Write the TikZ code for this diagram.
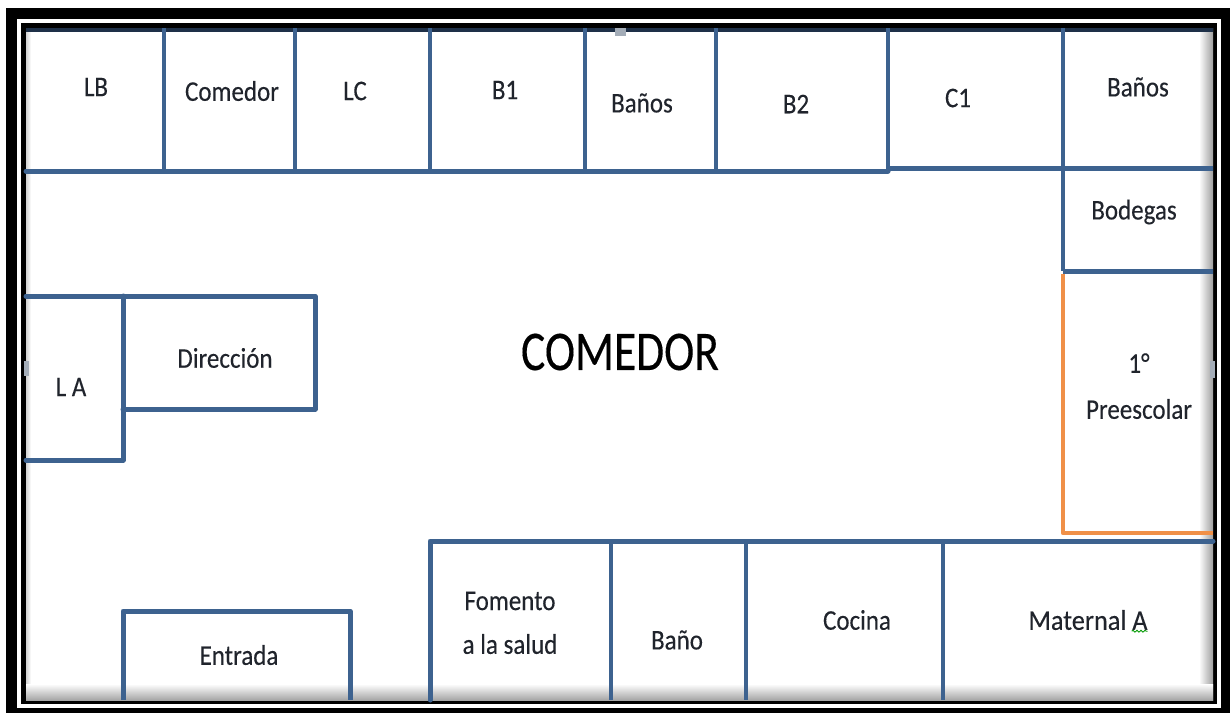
\documentclass[tikz,border=0pt]{standalone}
\usepackage{graphicx}
\usepackage{fontspec}
\setmainfont[FakeBold=0.25]{Carlito}
\usetikzlibrary{decorations.pathmorphing}
\definecolor{wallblue}{HTML}{3D628F}
\definecolor{wallorange}{HTML}{F09048}
\definecolor{toptone}{HTML}{1E3048}
\definecolor{labelink}{HTML}{20242C}
\definecolor{handlegray}{HTML}{A4ADB8}
\newcommand{\lab}[1]{\scalebox{1}[1.14]{#1}}
\tikzset{
  x=1pt,y=-1pt,
  wall/.style={draw=wallblue,line width=5pt,line cap=round,line join=round},
  thinwall/.style={draw=wallblue,line width=4.4pt,line cap=butt,line join=round},
  orangewall/.style={draw=wallorange,line width=4.6pt,line join=round},
  room/.style={text=labelink,font=\fontsize{25}{29}\selectfont,align=center,inner sep=0pt},
  handle/.style={fill=handlegray,draw=none},
}
\begin{document}
\begin{tikzpicture}
\useasboundingbox (0,0) rectangle (1230,713);
\fill[white] (0,0) rectangle (1230,713);
% frame
\fill[black] (6,8) rectangle (1230,713);
\fill[white] (17,19) rectangle (1221,708);
\fill[black] (21,23) rectangle (1217,704);
\fill[white] (26,28) rectangle (1213,700);
% soft inner shadow
\shade[left color=gray!35,right color=white] (26,28) rectangle (31,700);
\shade[left color=white,middle color=gray!10,right color=gray!75] (1199,28) rectangle (1213,700);
\shade[top color=white,middle color=gray!12,bottom color=gray!70] (26,684) rectangle (1213,700);
% top edge
\fill[toptone] (26,28) rectangle (1213,32);
% top row
\draw[wall] (26,171) -- (888,171);
\draw[wall,line cap=butt] (888,168) -- (1213,168);
\foreach \px/\py in {164/171,295/171,430/171,585/171,716/171,888/171,1063/168}
  \draw[thinwall] (\px,28) -- (\px,\py);
% Bodegas
\draw[thinwall] (1063,168) -- (1063,271);
\draw[wall,line cap=butt] (1063,271) -- (1213,271);
% Preescolar
\draw[orangewall] (1063,274) -- (1063,533) -- (1213,533);
% L A and Direccion
\draw[wall] (26,296) -- (315,296) -- (315,409) -- (123,409);
\draw[wall] (123,296) -- (123,460) -- (26,460);
% lower row
\draw[wall] (430,700) -- (430,541) -- (1213,541);
\foreach \px in {611,746,943}
  \draw[thinwall] (\px,541) -- (\px,700);
% Entrada
\draw[wall,line cap=butt] (123,700) -- (123,611) -- (350,611) -- (350,700);
% small handles
\fill[handle] (615,28) rectangle (626,36);
\fill[handle] (24,361) rectangle (29,376);
\fill[handle] (1210,361) rectangle (1215,378);
% labels
\node[room] (lb) at (96,87) {\lab{LB}};
\node[room] (comedorroom) at (232,91) {\lab{Comedor}};
\node[room] (lc) at (355,91) {\lab{LC}};
\node[room] (bone) at (505,90) {\lab{B1}};
\node[room] (banosa) at (642,103) {\lab{Baños}};
\node[room] (btwo) at (796,104) {\lab{B2}};
\node[room] (cone) at (958,98) {\lab{C1}};
\node[room] (banosb) at (1138,87) {\lab{Baños}};
\node[room] (bodegas) at (1134,212) {\lab{Bodegas}};
\node[text=black,font=\fontsize{50}{58}\selectfont,inner sep=0pt] (comedor) at (620,352) {\scalebox{0.91}[1.12]{COMEDOR}};
\node[room] (direccion) at (225,358) {\lab{Dirección}};
\node[room] (la) at (71,387) {\lab{L A}};
\node[room] (uno) at (1139,363) {\lab{1°}};
\node[room] (pre) at (1139,409) {\lab{Preescolar}};
\node[room] (fomento) at (510,601) {\lab{Fomento}};
\node[room] (salud) at (510,644) {\lab{a la salud}};
\node[room] (bano) at (677,640) {\lab{Baño}};
\node[room] (cocina) at (857,620) {\lab{Cocina}};
\node[room] (maternal) at (1088,620) {\scalebox{1.05}[1.14]{Maternal A}};
\node[room] (entrada) at (239,655) {\lab{Entrada}};
\draw[green!60!black,line width=0.9pt,decorate,decoration={snake,amplitude=0.9pt,segment length=4pt}]
  (maternal.south east) ++(-16,1) -- ++(16,0);
\end{tikzpicture}
\end{document}
